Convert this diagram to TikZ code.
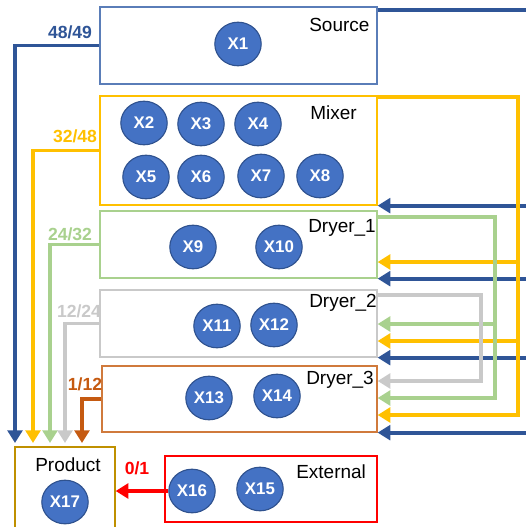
\documentclass[tikz,border=0pt]{standalone}
\usepackage{fontspec}
\setmainfont{Liberation Sans}
\usetikzlibrary{arrows.meta, positioning, calc, fit, shapes.geometric}

\definecolor{cblue}{HTML}{2F5597}
\definecolor{cunit}{HTML}{4472C4}
\definecolor{cunitline}{HTML}{2F528F}
\definecolor{cyellow}{HTML}{FFC000}
\definecolor{cgreen}{HTML}{A9D18E}
\definecolor{cgray}{HTML}{C9C9C9}
\definecolor{corange}{HTML}{C55A11}
\definecolor{cbox}{HTML}{5A7DB8}
\definecolor{cboxorange}{HTML}{D07A3C}
\definecolor{cgold}{HTML}{BF9000}

\tikzset{
  box/.style={draw=#1, line width=0.9pt, inner sep=0pt},
  boxlabel/.style={anchor=base west, font=\fontsize{13.5}{16}\selectfont, inner sep=0pt},
  unit/.style={ellipse, draw=cunitline, line width=0.8pt, fill=cunit, text=white,
    font=\bfseries\fontsize{12}{14}\selectfont, minimum width=33pt, minimum height=31pt, inner sep=0pt},
  flow/.style={draw=#1, line width=2.8pt, line join=miter,
    -{Triangle[length=9pt, width=10.5pt]}},
  pipe/.style={draw=#1, line width=2.8pt, line join=miter},
  ratio/.style={text=#1, font=\bfseries\fontsize{12.5}{14}\selectfont, inner sep=0pt}
}

\begin{document}
\begin{tikzpicture}[x=0.025cm, y=-0.025cm]
\useasboundingbox (0,0) rectangle (526,527);
% Unit boxes
\node[box=cbox, fit={(100,7) (377,84)}] (source) {};
\node[box=cyellow, fit={(100,96) (377,205)}] (mixer) {};
\node[box=cgreen, fit={(100,211) (377,278)}] (dryer1) {};
\node[box=cgray, fit={(100,290) (377,357)}] (dryer2) {};
\node[box=cboxorange, fit={(102,366) (377,432)}] (dryer3) {};
\node[box=cgold, fit={(15,447) (115,545)}] (product) {};
\node[box=red, fit={(165,456) (377,522)}] (external) {};
% Box titles
\node[boxlabel] (tsource) at (309,31) {Source};
\node[boxlabel] (tmixer) at (310,119) {Mixer};
\node[boxlabel] (tdryer1) at (308,232) {Dryer\_1};
\node[boxlabel] (tdryer2) at (309,307) {Dryer\_2};
\node[boxlabel] (tdryer3) at (306,384) {Dryer\_3};
\node[boxlabel] (texternal) at (296,478) {External};
\node[boxlabel] (tproduct) at (35,471) {Product};
% Units
\foreach \n/\x/\y in {1/238/44, 2/144/123, 3/201/124, 4/258/124,
  5/146/177, 6/201/177, 7/261/176, 8/320/176, 9/193/247, 10/279/247,
  11/217/326, 12/274/325, 13/209/398, 14/277/396, 15/260/489, 16/192/491, 17/65/502}
  \node[unit] (x\n) at (\x,\y) {X\n};
% Flows into Product
\coordinate (p1) at (15,443);
\coordinate (p2) at (33,443);
\coordinate (p3) at (50,443);
\coordinate (p4) at (65,443);
\coordinate (p5) at (82,443);
\draw[flow=cblue] (source.west) -| (p1);
\draw[flow=cyellow] (mixer.west) -| (p2);
\draw[flow=cgreen] (dryer1.west) -| (p3);
\draw[flow=cgray] (dryer2.west) -| (p4);
\draw[flow=corange] (dryer3.west) -| (p5);
\draw[flow=red] (x16.west) -- (x16.west -| product.east);
% Ratios
\node[ratio=cblue] (r1) at (70,32) {48/49};
\node[ratio=cyellow] (r2) at (75,136) {32/48};
\node[ratio=cgreen] (r3) at (70,234) {24/32};
\node[ratio=cgray] (r4) at (79,311) {12/24};
\node[ratio=corange] (r5) at (85,384) {1/12};
\node[ratio=red] (r6) at (137,468) {0/1};
% Recycle lines on the right
\coordinate (bus) at (530,0);
\coordinate (s0) at ($(source.north east)+(0,4)$);
\draw[pipe=cblue] (s0) -- (s0 -| bus);
\foreach \u in {mixer, dryer1, dryer2, dryer3}
  \draw[flow=cblue] (\u.south east -| bus) -- (\u.south east);
\coordinate (y1) at (518,262);
\coordinate (y2) at (518,341);
\coordinate (y3) at (518,415);
\draw[flow=cyellow] ($(mixer.north east)+(0,2)$) -| (y3) -- (y3 -| dryer3.east);
\draw[flow=cyellow] (y1) -- (y1 -| dryer1.east);
\draw[flow=cyellow] (y2) -- (y2 -| dryer2.east);
\coordinate (g1) at (495,324);
\coordinate (g2) at (495,398);
\draw[flow=cgreen] ($(dryer1.north east)+(0,7)$) -| (g2) -- (g2 -| dryer3.east);
\draw[flow=cgreen] (g1) -- (g1 -| dryer2.east);
\coordinate (k1) at (481,381);
\draw[flow=cgray] ($(dryer2.north east)+(0,6)$) -| (k1) -- (k1 -| dryer3.east);
\end{tikzpicture}
\end{document}
